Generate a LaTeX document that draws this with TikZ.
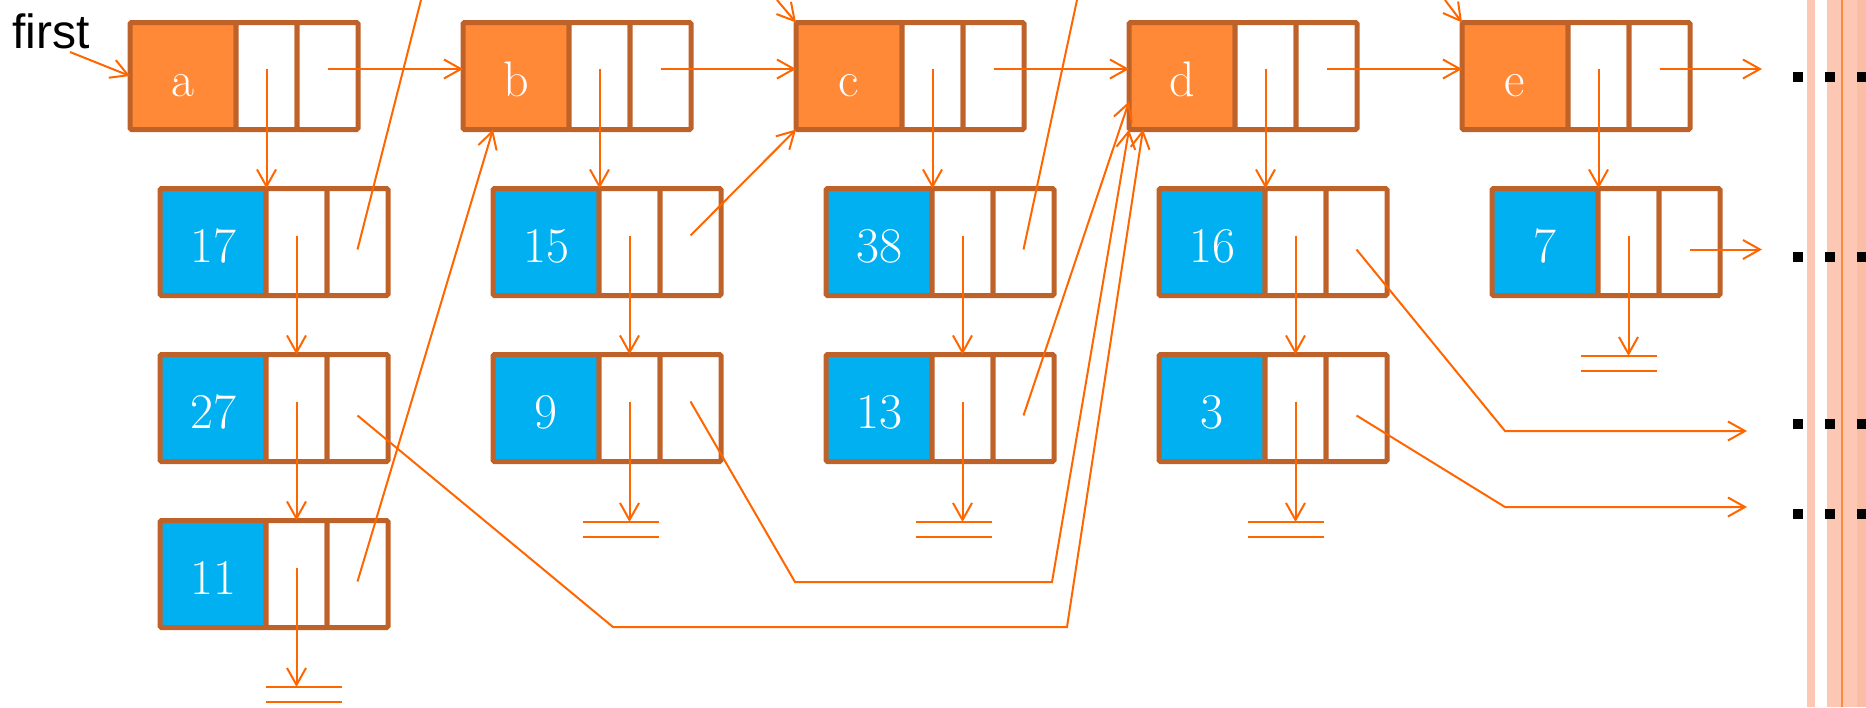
\documentclass[tikz,border=0pt]{standalone}
\usepackage{fontspec}
\newfontfamily\labelsans{Liberation Sans}
\usetikzlibrary{arrows.meta,calc}

\definecolor{hdrfill}{RGB}{255,137,54}
\definecolor{cellrim}{RGB}{191,98,41}
\definecolor{valfill}{RGB}{0,176,240}
\definecolor{linkc}{RGB}{255,102,0}
\definecolor{railc}{RGB}{252,200,180}
\definecolor{raildark}{RGB}{250,190,166}
\definecolor{railline}{RGB}{255,138,60}

\tikzset{
  cell/.style={draw=cellrim, line width=5pt, rectangle, inner sep=0pt, outer sep=0pt,
    minimum height=107pt, rounded corners=1.5pt},
  keycell/.style={cell, minimum width=106pt, text=white,
    font=\fontsize{50}{50}\selectfont, text height=41pt, text depth=0pt},
  ptrcell/.style={cell, fill=white, minimum width=61pt},
  link/.style={draw=linkc, line width=2pt, -{Straight Barb[length=17pt,width=19pt]}},
  plain/.style={draw=linkc, line width=2pt},
  firstlabel/.style={font=\labelsans\fontsize{48}{48}\selectfont, inner sep=0pt, anchor=base west},
}

% one list record: key cell followed by two pointer cells
\newcommand\listcell[5]{%
  \node[keycell, fill=#4, anchor=north west] (#1) at (#2,#3) {#5};
  \node[ptrcell, anchor=north west] (#1-2) at (#1.north east) {};
  \node[ptrcell, anchor=north west] (#1-3) at (#1-2.north east) {};
}

\begin{document}
\begin{tikzpicture}[x=1pt,y=-1pt]
\useasboundingbox (0,0) rectangle (1866,707);

% rails along the right margin
\fill[railc] (1807,0) rectangle (1815,707);
\fill[railc] (1827,0) rectangle (1857,707);
\fill[raildark] (1857,0) rectangle (1866,707);
\draw[railline, line width=1.5pt] (1842,0) -- (1842,707);

% header records
\listcell{a}{130}{22.5}{hdrfill}{a}
\listcell{b}{463}{22.5}{hdrfill}{b}
\listcell{c}{796}{22.5}{hdrfill}{c}
\listcell{d}{1129}{22.5}{hdrfill}{d}
\listcell{e}{1462}{22.5}{hdrfill}{e}

% value records
\listcell{v17}{160}{188.5}{valfill}{17}
\listcell{v27}{160}{354.5}{valfill}{27}
\listcell{v11}{160}{520.5}{valfill}{11}
\listcell{v15}{493}{188.5}{valfill}{15}
\listcell{v9}{493}{354.5}{valfill}{9}
\listcell{v38}{826}{188.5}{valfill}{38}
\listcell{v13}{826}{354.5}{valfill}{13}
\listcell{v16}{1159}{188.5}{valfill}{16}
\listcell{v3}{1159}{354.5}{valfill}{3}
\listcell{v7}{1492}{188.5}{valfill}{7}

% pointer origins inside the cells
\foreach \n in {a,b,c,d,e} {
  \coordinate (\n-dn) at ($(\n-2.center)+(0,-7)$);
  \coordinate (\n-nx) at ($(\n-3.center)+(0,-7)$);
}
\foreach \n in {v17,v27,v11,v15,v9,v38,v13,v16,v3,v7} {
  \coordinate (\n-dn) at ($(\n-2.center)+(0,-6.5)$);
  \coordinate (\n-nx) at ($(\n-3.center)+(0,7.5)$);
}
\foreach \n in {v15,v9} {
  \coordinate (\n-nx) at ($(\n-3.center)+(0,-6.5)$);
}

% nil markers
\coordinate (nil11) at (303.5,687);
\coordinate (nil9) at (621,522);
\coordinate (nil13) at (953.5,522);
\coordinate (nil3) at (1286,522);
\coordinate (nil7) at (1619,356);
\foreach \z in {nil11,nil9,nil13,nil3,nil7} {
  \draw[plain] ($(\z)+(-38,0)$) -- ($(\z)+(38,0)$)
               ($(\z)+(-38,15)$) -- ($(\z)+(38,15)$);
}

% entry label
\node[firstlabel] (first) at (12,48) {first};
\coordinate (first-tail) at (70,52);
\draw[link] (first-tail) -- (a.west);

% header chain
\coordinate (out-x) at (1762,0);
\draw[link] (a-nx) -- (a-nx -| b.west);
\draw[link] (b-nx) -- (b-nx -| c.west);
\draw[link] (c-nx) -- (c-nx -| d.west);
\draw[link] (d-nx) -- (d-nx -| e.west);
\draw[link] (e-nx) -- (e-nx -| out-x);

% downward chains
\draw[link] (a-dn) -- (a-dn |- v17.north);
\draw[link] (v17-dn) -- (v17-dn |- v27.north);
\draw[link] (v27-dn) -- (v27-dn |- v11.north);
\draw[link] (v11-dn) -- (v11-dn |- nil11);
\draw[link] (b-dn) -- (b-dn |- v15.north);
\draw[link] (v15-dn) -- (v15-dn |- v9.north);
\draw[link] (v9-dn) -- (v9-dn |- nil9);
\draw[link] (c-dn) -- (c-dn |- v38.north);
\draw[link] (v38-dn) -- (v38-dn |- v13.north);
\draw[link] (v13-dn) -- (v13-dn |- nil13);
\draw[link] (d-dn) -- (d-dn |- v16.north);
\draw[link] (v16-dn) -- (v16-dn |- v3.north);
\draw[link] (v3-dn) -- (v3-dn |- nil3);
\draw[link] (e-dn) -- (e-dn |- v7.north);
\draw[link] (v7-dn) -- (v7-dn |- nil7);

% cross links between records
\coordinate (top17) at (421,0);
\coordinate (top38) at (1077,0);
\coordinate (topc) at (777,0);
\coordinate (tope) at (1445,0);
\coordinate (bend27a) at (613,627);
\coordinate (bend27b) at (1067,627);
\coordinate (bend9a) at (795,582);
\coordinate (bend9b) at (1052,582);
\coordinate (bend16) at (1505,431);
\coordinate (end16) at (1747,431);
\coordinate (bend3) at (1505,507);
\coordinate (end3) at (1747,507);

\draw[plain] (v17-nx) -- (top17);
\draw[link] (v11-nx) -- ($(b.south west)+(30,0)$);
\draw[link] (v27-nx) -- (bend27a) -- (bend27b) -- ($(d.south west)+(14,0)$);
\draw[link] (v15-nx) -- (c.south west);
\draw[link] (v9-nx) -- (bend9a) -- (bend9b) -- (d.south west);
\draw[plain] (v38-nx) -- (top38);
\draw[link] (v13-nx) -- ($(d.west)+(0,25.5)$);
\draw[link] (v16-nx) -- (bend16) -- (end16);
\draw[link] (v3-nx) -- (bend3) -- (end3);
\draw[link] (v7-nx) -- (v7-nx -| out-x);
\draw[link] (topc) -- (c.north west);
\draw[link] (tope) -- (e.north west);

% continuation dots
\foreach \y in {76.5,257,423.5,514} {
  \foreach \x in {1798,1830,1862} {
    \fill[black] (\x,\y) +(-5,-5) rectangle +(5,5);
  }
}
\end{tikzpicture}
\end{document}
